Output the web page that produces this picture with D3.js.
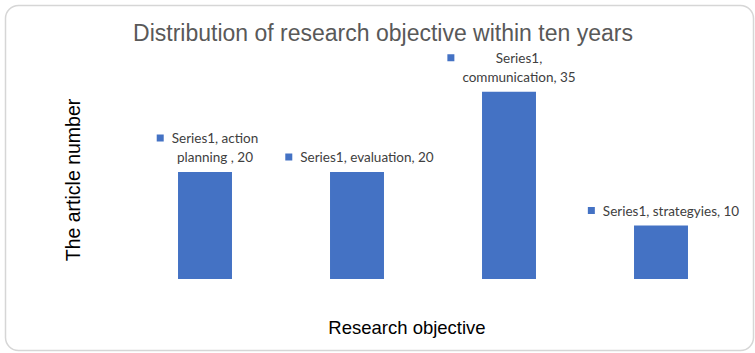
<!DOCTYPE html>
<html>
<head>
<meta charset="utf-8">
<script src="https://cdn.jsdelivr.net/npm/d3@7"></script>
<style>
  html, body { margin: 0; padding: 0; background: #fff; }
  svg { display: block; }
</style>
</head>
<body>
<svg id="chart" width="755" height="353"></svg>
<script>
// ---- data ----
const categories = ["action planning ", "evaluation", "communication", "strategyies"];
const values = [20, 20, 35, 10];
const seriesName = "Series1";
// data label lines (as wrapped in the original)
const labelLines = [
  ["Series1, action", "planning , 20"],
  ["Series1, evaluation, 20"],
  ["Series1,", "communication, 35"],
  ["Series1, strategyies, 10"]
];
const chartTitle = "Distribution of research objective within ten years";
const xTitle = "Research objective";
const yTitle = "The article number";

// ---- drawing ----
const svg = d3.select("#chart");
const W = 755, H = 353;

svg.append("rect")
  .attr("x", 5.5).attr("y", 5.5)
  .attr("width", 748).attr("height", 345)
  .attr("rx", 13).attr("ry", 13)
  .attr("fill", "#fff")
  .attr("stroke", "#d6d6d6")
  .attr("stroke-width", 1.5);

const x = d3.scaleBand()
  .domain(categories)
  .range([129, 737])
  .paddingInner(0.645)
  .paddingOuter(0.3225);

const y = d3.scaleLinear()
  .domain([0, 40])
  .range([279, 65]);

const color = "#4472C4";

svg.append("g").selectAll("rect")
  .data(categories)
  .join("rect")
  .attr("x", d => x(d))
  .attr("y", (d, i) => y(values[i]))
  .attr("width", x.bandwidth())
  .attr("height", (d, i) => y(0) - y(values[i]))
  .attr("fill", color);

// title
svg.append("text")
  .attr("x", 383).attr("y", 41)
  .attr("text-anchor", "middle")
  .attr("font-family", "Liberation Sans, Arial, sans-serif")
  .attr("font-size", 23)
  .attr("fill", "#595959")
  .text(chartTitle);

// axis titles
svg.append("text")
  .attr("transform", "translate(80,180) rotate(-90)")
  .attr("text-anchor", "middle")
  .attr("font-family", "Liberation Sans, Arial, sans-serif")
  .attr("font-size", 19.5)
  .attr("fill", "#000")
  .text(yTitle);

svg.append("text")
  .attr("x", 407).attr("y", 334)
  .attr("text-anchor", "middle")
  .attr("font-family", "Liberation Sans, Arial, sans-serif")
  .attr("font-size", 18.5)
  .attr("fill", "#000")
  .text(xTitle);

// data labels
const lineH = 19;
const labelFont = "Lato, 'Open Sans', sans-serif";
const labelSize = 13.5;
const lg = svg.append("g");
categories.forEach((c, i) => {
  const lines = labelLines[i];
  const cx = x(c) + x.bandwidth() / 2 + 10;
  const lastBase = y(values[i]) - 10;
  const g = lg.append("g");
  const texts = lines.map((ln, k) => g.append("text")
    .attr("x", cx)
    .attr("y", lastBase - (lines.length - 1 - k) * lineH)
    .attr("text-anchor", "middle")
    .attr("font-family", labelFont)
    .attr("font-size", labelSize)
    .attr("fill", "#404040")
    .text(ln));
  const widths = texts.map(t => t.node().getComputedTextLength());
  const left = cx - d3.max(widths) / 2;
  const firstBase = lastBase - (lines.length - 1) * lineH;
  g.append("rect")
    .attr("x", left - 15)
    .attr("y", firstBase - 8.5)
    .attr("width", 7).attr("height", 7)
    .attr("fill", color);
});
</script>
</body>
</html>
